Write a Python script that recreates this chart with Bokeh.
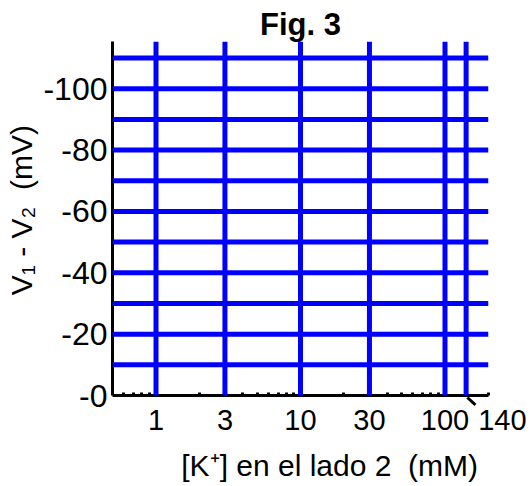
from bokeh.plotting import figure
from bokeh.models import (Span, Arrow, NormalHead, FixedTicker, Range1d,
                          CustomJSTickFormatter, PrintfTickFormatter)
from bokeh.embed import file_html
from bokeh.resources import INLINE

# Data
x_lines = [1, 3, 10, 30, 100, 140]          # vertical blue lines, [K+] (mM)
y_lines = [10, 20, 30, 40, 50, 60, 70, 80, 90, 100, 110]  # horizontal blue lines, -mV
x_ticks = [1, 3, 10, 30, 100, 140]
x_tick_labels = ["1", "3", "10", "30", "100", "\u00a0" * 9 + "140"]
x_minor = [0.6, 0.7, 0.8, 0.9, 2, 4, 5, 6, 7, 8, 9, 20, 40, 50, 60, 70, 80, 90, 200]
y_ticks = [0, 20, 40, 60, 80, 100]
marked_k = 140   # concentration pointed at by the arrow

FONT = "Liberation Sans"
BLUE = "#0000ff"
NB = "\u00a0"

p = figure(width=532, height=486, x_axis_type="log",
           x_range=Range1d(0.5, 200), y_range=Range1d(0, 115.4),
           output_backend="svg", toolbar_location=None,
           min_border_left=112, min_border_right=44,
           min_border_top=41, min_border_bottom=91)
p.outline_line_color = None
p.xgrid.visible = False
p.ygrid.visible = False
p.background_fill_color = "white"

p.title.text = "Fig. 3"
p.title.align = "center"
p.title.text_font = FONT
p.title.text_font_style = "bold"
p.title.text_font_size = "31px"
p.title.text_color = "black"
p.title.standoff = 0
p.title.offset = -7

for xv in x_lines:
    p.add_layout(Span(location=xv, dimension="height", line_color=BLUE, line_width=5))
for yv in y_lines:
    p.add_layout(Span(location=yv, dimension="width", line_color=BLUE, line_width=5))

xa = p.xaxis[0]
xa.ticker = FixedTicker(ticks=x_ticks, minor_ticks=x_minor)
xa.formatter = CustomJSTickFormatter(args=dict(tv=x_ticks, tl=x_tick_labels),
                                     code="const i = tv.indexOf(tick); return i >= 0 ? tl[i] : '';")
xa.axis_line_width = 3
xa.axis_line_color = "black"
xa.major_tick_in = 4
xa.major_tick_out = 0
xa.minor_tick_in = 3
xa.minor_tick_out = 0
xa.minor_tick_line_width = 3
xa.major_tick_line_width = 3
xa.major_label_text_font = FONT
xa.major_label_text_font_size = "29px"
xa.major_label_text_color = "black"
xa.major_label_standoff = 8
xa.axis_label = NB * 7 + "[K\u207a] en el lado 2 " + NB + "(mM)"
xa.axis_label_text_font = FONT
xa.axis_label_text_font_size = "30px"
xa.axis_label_text_font_style = "normal"
xa.axis_label_text_color = "black"
xa.axis_label_standoff = 10

ya = p.yaxis[0]
ya.ticker = FixedTicker(ticks=y_ticks)
ya.formatter = PrintfTickFormatter(format="-%d")
ya.axis_line_width = 3
ya.axis_line_color = "black"
ya.major_tick_in = 0
ya.major_tick_out = 0
ya.minor_tick_line_color = None
ya.major_label_text_font = FONT
ya.major_label_text_font_size = "32px"
ya.major_label_text_color = "black"
ya.major_label_standoff = 5
ya.axis_label = NB * 2 + "V\u2081 - V\u2082 " + NB + "(mV)"
ya.axis_label_text_font = FONT
ya.axis_label_text_font_size = "30px"
ya.axis_label_text_font_style = "normal"
ya.axis_label_text_color = "black"
ya.axis_label_standoff = 2

p.add_layout(Arrow(end=NormalHead(size=11, fill_color="black", line_color="black",
                                  line_width=2),
                   x_start=182, y_start=-5.2, x_end=marked_k * 1.02, y_end=-0.65,
                   line_color="black", line_width=3))

open("out.html", "w").write(file_html(p, INLINE))
